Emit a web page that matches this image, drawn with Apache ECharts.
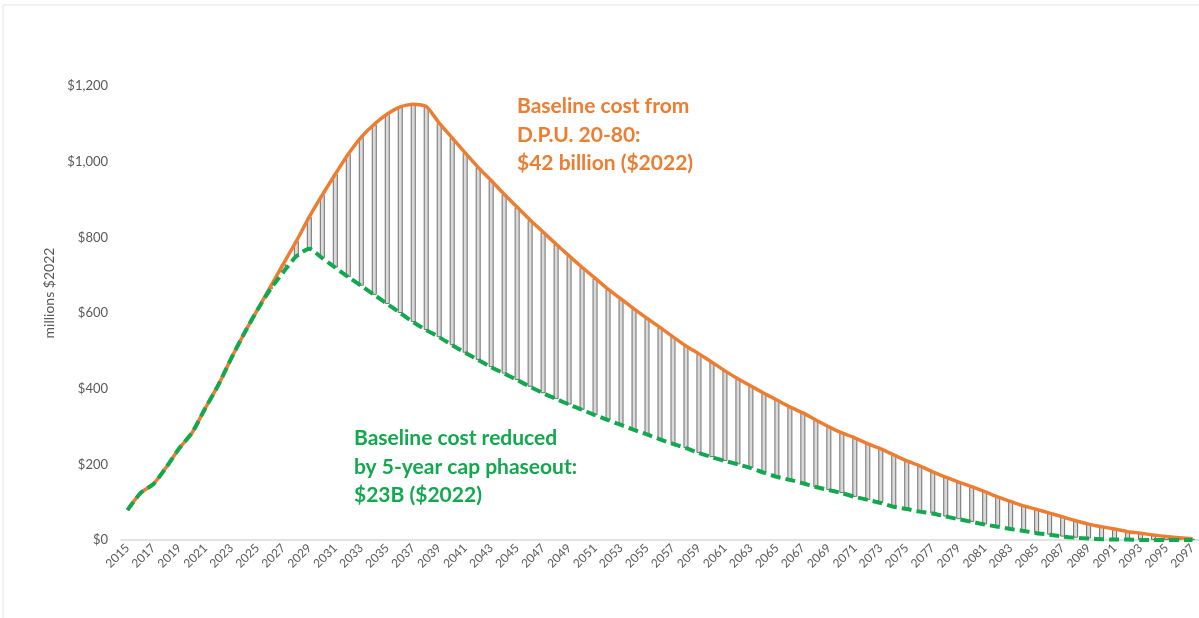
<!DOCTYPE html>
<html>
<head>
<meta charset="utf-8">
<script src="https://cdn.jsdelivr.net/npm/echarts@6/dist/echarts.min.js"></script>
<style>
  html, body { margin: 0; padding: 0; background: #ffffff; }
  #chart { width: 1199px; height: 618px; }
</style>
</head>
<body>
<div id="chart"></div>
<script>
// Years 2015..2097
const years = [];
for (let y = 2015; y <= 2097; y++) years.push(String(y));

// Baseline cost from D.P.U. 20-80 (millions $2022)
const baseline = [
  79, 124, 148, 193, 243, 285, 349, 410, 481, 547,
  608, 669, 730, 790, 854, 912, 967, 1020, 1065, 1099,
  1126, 1145, 1152, 1146, 1102, 1063, 1023, 985, 950, 914,
  880, 846, 814, 782, 751, 721, 692, 663, 637, 611,
  586, 562, 537, 513, 492, 470, 447, 426, 407, 388,
  370, 352, 336, 317, 299, 283, 270, 254, 241, 225,
  209, 196, 180, 166, 153, 141, 128, 114, 102, 90,
  81, 71, 61, 51, 42, 35, 29, 22, 18, 13,
  9, 6, 3
];

// Baseline cost reduced by 5-year cap phaseout (millions $2022)
const reduced = [
  79, 124, 148, 193, 243, 285, 349, 410, 481, 547,
  608, 663, 708, 750, 770, 745, 720, 695, 672, 648,
  624, 600, 576, 555, 536, 515, 495, 476, 457, 440,
  423, 405, 388, 373, 358, 344, 330, 317, 304, 291,
  279, 266, 254, 243, 230, 219, 209, 200, 190, 178,
  167, 159, 150, 140, 132, 124, 114, 106, 98, 88,
  82, 75, 70, 62, 55, 48, 41, 35, 29, 24,
  18, 14, 9, 6, 4, 2, 1, 1, 0, 0,
  0, 0, 0
];

const yTicks = [0, 200, 400, 600, 800, 1000, 1200];

const orangeLabel = ['Baseline cost from', 'D.P.U. 20-80:', '$42 billion ($2022)'];
const greenLabel = ['Baseline cost reduced', 'by 5-year cap phaseout:', '$23B ($2022)'];

// Derived series for the high-low bars
const barBase = reduced.map((v, i) => (baseline[i] - v > 0 ? v : '-'));
const barDiff = reduced.map((v, i) => (baseline[i] - v > 0 ? baseline[i] - v : '-'));

const chart = echarts.init(document.getElementById('chart'), null, { renderer: 'canvas' });

const FONT = 'Lato, "Open Sans", sans-serif';

chart.setOption({
  animation: false,
  backgroundColor: '#ffffff',
  textStyle: { fontFamily: FONT },
  grid: { left: 121, right: 0, top: 86, bottom: 78 },
  xAxis: {
    type: 'category',
    data: years,
    boundaryGap: true,
    axisLine: { show: true, lineStyle: { color: '#d9d9d9', width: 1.5 } },
    axisTick: { show: false },
    axisLabel: {
      interval: 1,
      rotate: 45,
      color: '#595959',
      fontSize: 12,
      fontFamily: FONT,
      margin: 6
    },
    splitLine: { show: false }
  },
  yAxis: {
    type: 'value',
    min: yTicks[0],
    max: yTicks[yTicks.length - 1],
    interval: 200,
    name: 'millions $2022',
    nameLocation: 'middle',
    nameGap: 64,
    nameTextStyle: { color: '#595959', fontSize: 14, fontFamily: FONT, padding: [0, 0, 0, 40] },
    axisLine: { show: false },
    axisTick: { show: false },
    splitLine: { show: false },
    axisLabel: {
      color: '#595959',
      fontSize: 13,
      fontFamily: FONT,
      margin: 13,
      formatter: v => '$' + v.toLocaleString('en-US')
    }
  },
  series: [
    {
      name: 'base',
      type: 'bar',
      stack: 'hl',
      data: barBase,
      barWidth: 5,
      itemStyle: { color: 'rgba(0,0,0,0)', borderWidth: 0 },
      silent: true,
      z: 1
    },
    {
      name: 'Savings',
      type: 'bar',
      stack: 'hl',
      data: barDiff,
      barWidth: 5,
      itemStyle: { color: '#dadada', borderColor: '#6f6f6f', borderWidth: 1 },
      z: 1
    },
    {
      name: 'Baseline cost from D.P.U. 20-80',
      type: 'line',
      data: baseline,
      smooth: 0.2,
      symbol: 'none',
      lineStyle: { color: '#ED7D31', width: 3.5 },
      z: 3
    },
    {
      name: 'Baseline cost reduced by 5-year cap phaseout',
      type: 'line',
      data: reduced,
      smooth: 0.2,
      symbol: 'none',
      lineStyle: { color: '#12A84E', width: 4, type: [10, 5] },
      z: 4
    }
  ],
  graphic: [
    {
      type: 'line',
      shape: { x1: 3, y1: 5, x2: 1199, y2: 5 },
      style: { stroke: '#e3e3e3', lineWidth: 1 },
      silent: true
    },
    {
      type: 'line',
      shape: { x1: 3, y1: 5, x2: 3, y2: 618 },
      style: { stroke: '#e3e3e3', lineWidth: 1 },
      silent: true
    },
    {
      type: 'text',
      left: 517,
      top: 92,
      style: {
        text: orangeLabel.join('\n'),
        fill: '#ED7D31',
        font: 'bold 21px ' + FONT,
        lineHeight: 28.5
      }
    },
    {
      type: 'text',
      left: 354,
      top: 424,
      style: {
        text: greenLabel.join('\n'),
        fill: '#12A84E',
        font: 'bold 21px ' + FONT,
        lineHeight: 28.5
      }
    }
  ]
});
</script>
</body>
</html>
